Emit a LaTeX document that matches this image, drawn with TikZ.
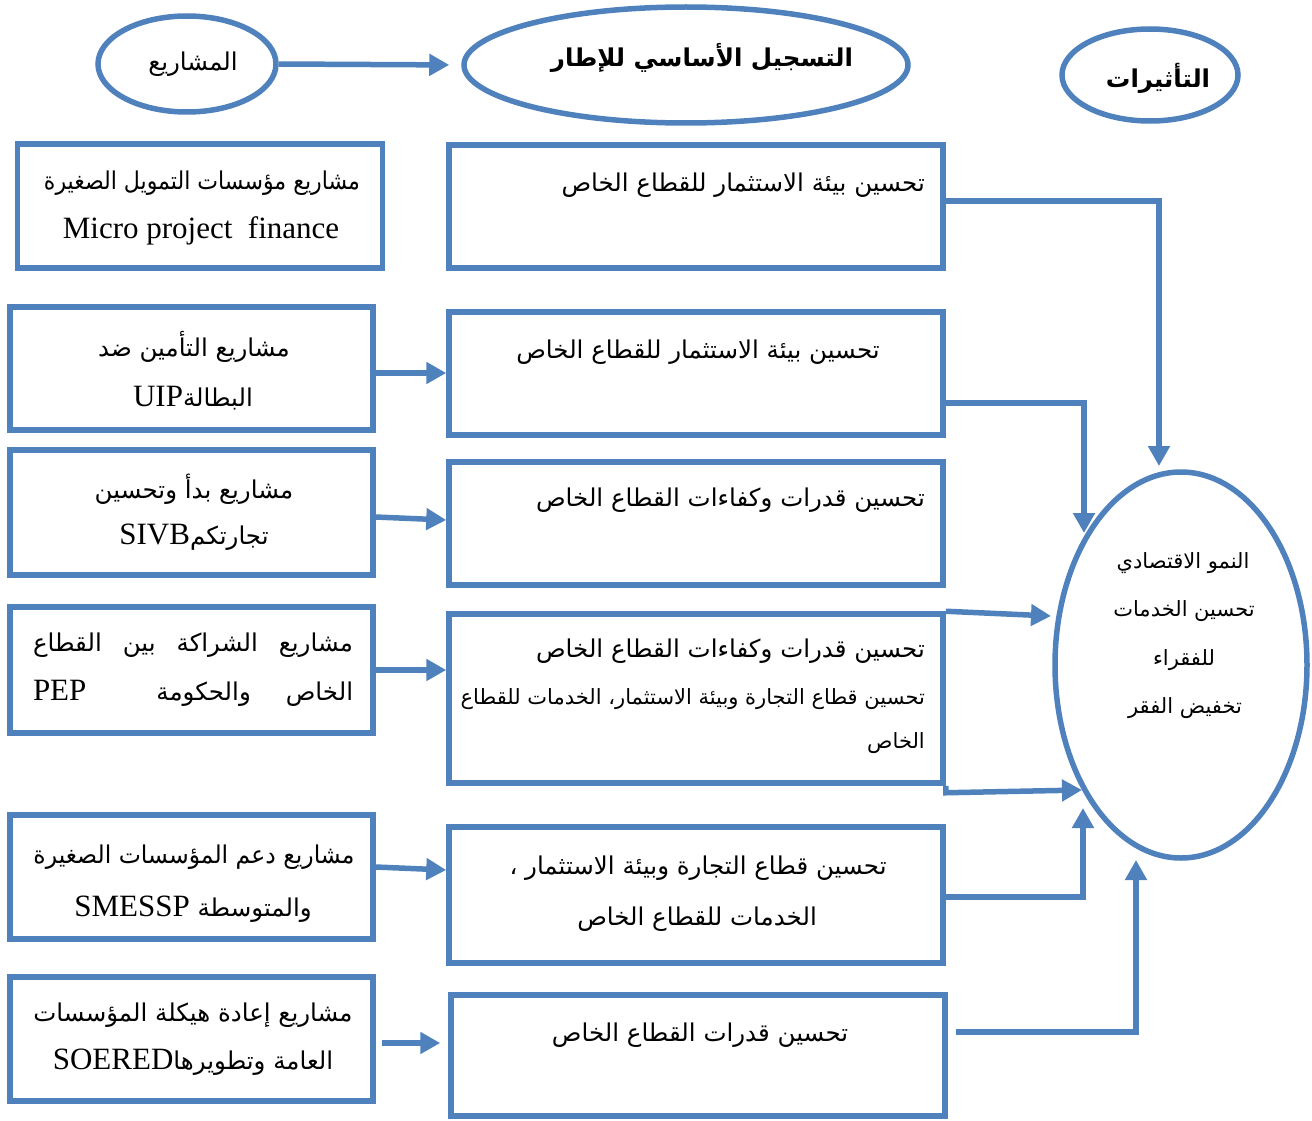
\documentclass[tikz,border=0pt]{standalone}
\usepackage{fontspec}
\setmainfont{Liberation Serif}
\newfontfamily\arabicfont[Script=Arabic]{DejaVu Sans}
\TeXXeTstate=1
\usetikzlibrary{arrows.meta,shapes.geometric}
\definecolor{frameblue}{HTML}{4F81BD}
% Arabic run, right to left
\newcommand\artext[1]{{\arabicfont\beginR #1\endR}}
% Latin run embedded inside Arabic
\newcommand\lat[1]{\beginL{\rmfamily #1}\endL}
\tikzset{
  box/.style={draw=frameblue, line width=5.5pt, rectangle, inner sep=0pt},
  oval/.style={draw=frameblue, line width=5.5pt, ellipse, inner sep=0pt},
  conn/.style={draw=frameblue, line width=5.5pt, -{Triangle[length=20pt,width=21pt]}},
  txt/.style={inner sep=0pt, font=\fontsize{24.5}{28}\selectfont},
  small/.style={inner sep=0pt, font=\fontsize{21}{25}\selectfont},
}
\begin{document}
\begin{tikzpicture}[x=1pt,y=-1pt]
\useasboundingbox (0,0) rectangle (1312,1121);

% header ovals
\node[oval, minimum width=178pt, minimum height=96pt] (proj) at (187,64) {};
\node[oval, minimum width=444pt, minimum height=116pt] (frame) at (686,65) {};
\node[oval, minimum width=176pt, minimum height=92pt] (effects) at (1150,75) {};
\node[txt] (projT) at (193,64) {\artext{المشاريع}};
\node[txt, font=\fontsize{24.5}{28}\selectfont\bfseries] (frameT) at (702,58) {\artext{التسجيل الأساسي للإطار}};
\node[txt, font=\fontsize{24.5}{28}\selectfont\bfseries] (effectsT) at (1158,78) {\artext{التأثيرات}};

% project boxes (left column)
\node[box, minimum width=365pt, minimum height=124pt] (L1) at (200,206) {};
\node[box, minimum width=363pt, minimum height=123pt] (L2) at (191.5,368.5) {};
\node[box, minimum width=363pt, minimum height=125pt] (L3) at (191.5,512.5) {};
\node[box, minimum width=363pt, minimum height=126pt] (L4) at (191.5,670) {};
\node[box, minimum width=363pt, minimum height=124pt] (L5) at (191.5,877) {};
\node[box, minimum width=363pt, minimum height=124pt] (L6) at (191.5,1039) {};

\node[txt] (L1a) at (202,183) {\scalebox{0.9}[1]{\artext{مشاريع مؤسسات التمويل الصغيرة}}};
\node[txt, font=\fontsize{31}{34}\selectfont] (L1b) at (201,231) {Micro project\ \ finance};
\node[txt] (L2a) at (194,347) {\artext{مشاريع التأمين ضد}};
\node[txt] (L2b) at (193,398) {\artext{البطالة\lat{\fontsize{31}{34}\selectfont UIP}}};
\node[txt] (L3a) at (194,489) {\artext{مشاريع بدأ وتحسين}};
\node[txt] (L3b) at (194,537) {\artext{تجارتكم\lat{\fontsize{31}{34}\selectfont SIVB}}};
\node[txt] (L4a) at (193,645) {\makebox[320pt]{\artext{مشاريع\hfill الشراكة\hfill بين\hfill القطاع}}};
\node[txt] (L4b) at (193,693) {\makebox[320pt]{\artext{الخاص\hfill والحكومة\hfill\hfill \lat{\fontsize{31}{34}\selectfont PEP}}}};
\node[txt] (L5a) at (194,857) {\scalebox{0.96}[1]{\artext{مشاريع دعم المؤسسات الصغيرة}}};
\node[txt] (L5b) at (193,909) {\artext{والمتوسطة \lat{\fontsize{31}{34}\selectfont SMESSP}}};
\node[txt] (L6a) at (193,1015) {\artext{مشاريع إعادة هيكلة المؤسسات}};
\node[txt] (L6b) at (193,1062) {\artext{العامة وتطويرها\lat{\fontsize{31}{34}\selectfont SOERED}}};

% framework boxes (middle column)
\node[box, minimum width=494pt, minimum height=123pt] (M1) at (696,206.5) {};
\node[box, minimum width=494pt, minimum height=123pt] (M2) at (696,373.5) {};
\node[box, minimum width=494pt, minimum height=123pt] (M3) at (696,523.5) {};
\node[box, minimum width=494pt, minimum height=169pt] (M4) at (696,698.5) {};
\node[box, minimum width=494pt, minimum height=136pt] (M5) at (696,895) {};
\node[box, minimum width=494pt, minimum height=121pt] (M6) at (698,1055.5) {};

\node[txt, anchor=east] (M1a) at (925,185) {\artext{تحسين بيئة الاستثمار للقطاع الخاص}};
\node[txt] (M2a) at (698,352) {\artext{تحسين بيئة الاستثمار للقطاع الخاص}};
\node[txt, anchor=east] (M3a) at (925,500) {\artext{تحسين قدرات وكفاءات القطاع الخاص}};
\node[txt, anchor=east] (M4a) at (925,651) {\artext{تحسين قدرات وكفاءات القطاع الخاص}};
\node[small, anchor=east] (M4b) at (925,699) {\artext{تحسين قطاع التجارة وبيئة الاستثمار، الخدمات للقطاع}};
\node[small, anchor=east] (M4c) at (925,743) {\artext{الخاص}};
\node[txt] (M5a) at (698,868) {\artext{تحسين قطاع التجارة وبيئة الاستثمار ،}};
\node[txt] (M5b) at (697,919) {\artext{الخدمات للقطاع الخاص}};
\node[txt] (M6a) at (700,1035) {\artext{تحسين قدرات القطاع الخاص}};

% impact oval
\node[oval, minimum width=252pt, minimum height=386pt] (impact) at (1181,665) {};
\node[small] (I1) at (1183,563) {\artext{النمو الاقتصادي}};
\node[small] (I2) at (1184,611) {\artext{تحسين الخدمات}};
\node[small] (I3) at (1184,660) {\artext{للفقراء}};
\node[small] (I4) at (1185,708) {\artext{تخفيض الفقر}};

% arrow tips ending near the impact oval
\coordinate (t1) at (1159,466);
\coordinate (t2) at (1084,533);
\coordinate (t3) at (1051,616);
\coordinate (t4) at (1082,790);
\coordinate (t5) at (1083,808);
\coordinate (t6) at (1136,860);

% connectors
\draw[conn, shorten >=12pt] (proj.east) -- (frame.west);
\draw[conn] ([yshift=-4.5pt]L2.east) -- ([yshift=-4.5pt]M2.west |- L2.east);
\draw[conn] ([yshift=-4.5pt]L3.east) -- ([yshift=3.5pt]M3.west);
\draw[conn] (L4.east) -- (M4.west |- L4.east);
\draw[conn] ([yshift=10pt]L5.east) -- ([yshift=25pt]M5.west);
\draw[conn, shorten <=6pt, shorten >=8pt] ([yshift=-4pt]L6.east) -- ([yshift=-4pt]M6.west |- L6.east);

\draw[conn] ([yshift=5.5pt]M1.east) -| (t1);
\draw[conn] ([yshift=-29.5pt]M2.east) -| (t2);
\draw[conn] (M4.north east) -- (t3);
\draw[conn] (M4.south east) -- ++(0,7) -- (t4);
\draw[conn] ([yshift=-2pt]M5.east) -| (t5);
\draw[conn, shorten <=8pt] ([yshift=23.5pt]M6.east) -| (t6);
\end{tikzpicture}
\end{document}
